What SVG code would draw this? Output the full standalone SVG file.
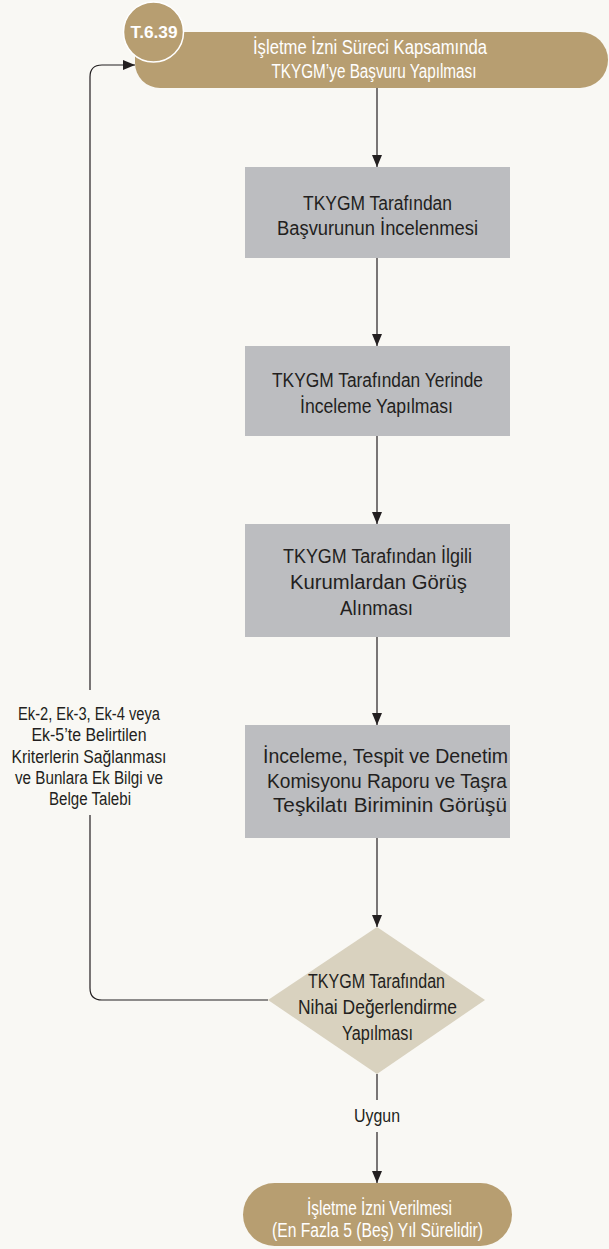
<svg xmlns="http://www.w3.org/2000/svg" width="609" height="1249" viewBox="0 0 609 1249">
<defs>
<marker id="arr" markerWidth="12" markerHeight="12" viewBox="0 0 12 12" refX="12" refY="6" orient="auto" markerUnits="userSpaceOnUse">
<path d="M0,1 L12,6 L0,11 Z" fill="#231f20"/>
</marker>
<style>
.t{font-family:"Liberation Sans Narrow","Liberation Sans",Arial,sans-serif;font-size:19.5px;fill:#231f20;text-anchor:middle}
.s{font-size:18px}
.b{font-size:20px}
.w{fill:#ffffff}
.box{fill:#bcbdc0}
.gold{fill:#b79e71}
.c{fill:none;stroke:#231f20;stroke-width:1.2}
</style>
</defs>
<rect width="609" height="1249" fill="#f9f8f4"/>
<g id="connectors">
<path class="c" d="M377,88 V167" marker-end="url(#arr)"/>
<path class="c" d="M377,258 V346" marker-end="url(#arr)"/>
<path class="c" d="M377,436 V524" marker-end="url(#arr)"/>
<path class="c" d="M377,637 V725" marker-end="url(#arr)"/>
<path class="c" d="M377,838 V927" marker-end="url(#arr)"/>
<path class="c" d="M377,1074 V1100"/>
<path class="c" d="M377,1132 V1183" marker-end="url(#arr)"/>
<path class="c" d="M268,1000 H102 Q90,1000 90,988 V815"/>
<path class="c" d="M90,690 V77 Q90,65 102,65 H135" marker-end="url(#arr)"/>
<text class="t s" x="377" y="1122" textLength="46" lengthAdjust="spacingAndGlyphs">Uygun</text>
<g id="loop-label">
<text class="t s" x="89" y="720" textLength="142" lengthAdjust="spacingAndGlyphs">Ek-2, Ek-3, Ek-4 veya</text>
<text class="t s" x="89" y="741" textLength="115" lengthAdjust="spacingAndGlyphs">Ek-5’te Belirtilen</text>
<text class="t s" x="89" y="763" textLength="155" lengthAdjust="spacingAndGlyphs">Kriterlerin Sağlanması</text>
<text class="t s" x="89" y="784" textLength="148" lengthAdjust="spacingAndGlyphs">ve Bunlara Ek Bilgi ve</text>
<text class="t s" x="90" y="805" textLength="82" lengthAdjust="spacingAndGlyphs">Belge Talebi</text>
</g>
</g>
<g id="start">
<path class="gold" d="M135,32 H580 A28,28 0 0 1 580,88 H160 A25,25 0 0 1 135,63 Z"/>
<circle cx="153.5" cy="32" r="30" fill="#b79e71" stroke="#ffffff" stroke-width="1.5"/>
<text class="t w" x="154" y="38" style="font-size:17px;font-weight:bold" textLength="47" lengthAdjust="spacingAndGlyphs">T.6.39</text>
<text class="t w b" x="370" y="54" textLength="234" lengthAdjust="spacingAndGlyphs">İşletme İzni Süreci Kapsamında</text>
<text class="t w b" x="374" y="78" textLength="205" lengthAdjust="spacingAndGlyphs">TKYGM’ye Başvuru Yapılması</text>
</g>
<g id="step1">
<rect class="box" x="245" y="167" width="265" height="91"/>
<text class="t" x="377.5" y="210" textLength="149" lengthAdjust="spacingAndGlyphs">TKYGM Tarafından</text>
<text class="t" x="377.5" y="235" textLength="201" lengthAdjust="spacingAndGlyphs">Başvurunun İncelenmesi</text>
</g>
<g id="step2">
<rect class="box" x="245" y="346" width="265" height="90"/>
<text class="t" x="377.5" y="387" textLength="211" lengthAdjust="spacingAndGlyphs">TKYGM Tarafından Yerinde</text>
<text class="t" x="376.5" y="413" textLength="153" lengthAdjust="spacingAndGlyphs">İnceleme Yapılması</text>
</g>
<g id="step3">
<rect class="box" x="245" y="524" width="265" height="113"/>
<text class="t" x="377.5" y="563" textLength="189" lengthAdjust="spacingAndGlyphs">TKYGM Tarafından İlgili</text>
<text class="t" x="378.5" y="589" textLength="177" lengthAdjust="spacingAndGlyphs">Kurumlardan Görüş</text>
<text class="t" x="376.5" y="615" textLength="73" lengthAdjust="spacingAndGlyphs">Alınması</text>
</g>
<g id="step4">
<rect class="box" x="245" y="725" width="265" height="113"/>
<text class="t b" x="385.5" y="763" textLength="245" lengthAdjust="spacingAndGlyphs">İnceleme, Tespit ve Denetim</text>
<text class="t b" x="387" y="788" textLength="240" lengthAdjust="spacingAndGlyphs">Komisyonu Raporu ve Taşra</text>
<text class="t b" x="390" y="812" textLength="234" lengthAdjust="spacingAndGlyphs">Teşkilatı Biriminin Görüşü</text>
</g>
<g id="decision">
<polygon points="377,927 485,1000 377,1074 268,1000" fill="#d9d2bf"/>
<text class="t" x="376.5" y="988" textLength="137" lengthAdjust="spacingAndGlyphs">TKYGM Tarafından</text>
<text class="t" x="377.5" y="1014" textLength="159" lengthAdjust="spacingAndGlyphs">Nihai Değerlendirme</text>
<text class="t" x="377.5" y="1040" textLength="71" lengthAdjust="spacingAndGlyphs">Yapılması</text>
</g>
<g id="end">
<rect class="gold" x="243" y="1183" width="269" height="63" rx="31.5"/>
<text class="t w" x="379.5" y="1215" textLength="145" lengthAdjust="spacingAndGlyphs">İşletme İzni Verilmesi</text>
<text class="t w" x="377.5" y="1237" textLength="211" lengthAdjust="spacingAndGlyphs">(En Fazla 5 (Beş) Yıl Sürelidir)</text>
</g>
</svg>
